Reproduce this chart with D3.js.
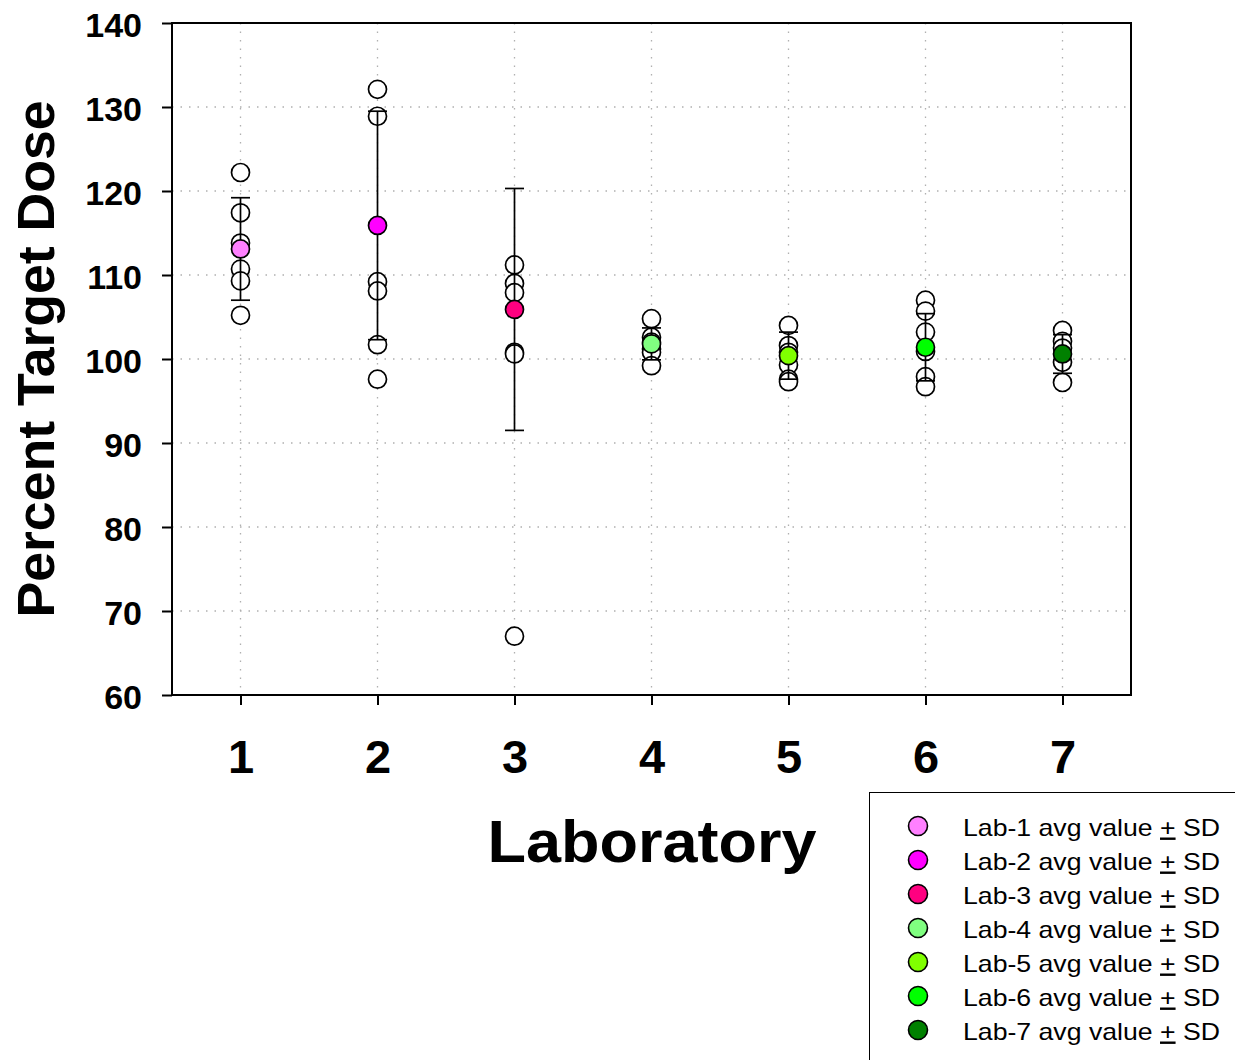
<!DOCTYPE html>
<html>
<head>
<meta charset="utf-8">
<script src="https://cdn.jsdelivr.net/npm/d3@7"></script>
<style>
  html, body { margin: 0; padding: 0; background: #fff; }
  svg { display: block; font-family: "Liberation Sans", Arial, Helvetica, sans-serif; }
</style>
</head>
<body>
<svg id="chart" width="1235" height="1060"></svg>
<script>
// ---- data ----
const labs = [1, 2, 3, 4, 5, 6, 7];
const lab1Values = [122.2, 117.4, 113.8, 110.7, 109.3, 105.2];
const lab2Values = [132.1, 128.9, 109.2, 108.1, 101.7, 97.6];
const lab3Values = [111.2, 109.0, 107.9, 100.8, 100.6, 67.0];
const lab4Values = [104.8, 102.6, 102.0, 101.2, 100.8, 99.2];
const lab5Values = [104.0, 101.6, 100.8, 99.3, 97.6, 97.3];
const lab6Values = [107.0, 105.7, 103.2, 100.9, 97.9, 96.7];
const lab7Values = [103.4, 102.1, 101.3, 99.6, 97.2];
const labMeans = [113.1, 115.9, 105.9, 101.8, 100.4, 101.4, 100.6];
const labSDs = [6.1, 13.6, 14.4, 1.9, 2.8, 4.0, 2.3];
const labColors = ["#ff80ff", "#ff00ff", "#ff0080", "#80ff80", "#80ff00", "#00ff00", "#008000"];
const yTicks = [60, 70, 80, 90, 100, 110, 120, 130, 140];
const legendLabels = labs.map(l => "Lab-" + l + " avg value ");

const allValues = [lab1Values, lab2Values, lab3Values, lab4Values, lab5Values, lab6Values, lab7Values];

// ---- layout ----
const svg = d3.select("#chart");
const L = 172, R = 1131, T = 23, B = 695;
const x = d3.scaleLinear().domain([0.5, 7.5]).range([L, R]);
const y = d3.scaleLinear().domain([60, 140]).range([B, T]);

// grid
const grid = svg.append("g").attr("stroke", "#b0b0b0").attr("stroke-width", 1.3)
  .attr("stroke-dasharray", "1.5,7");
grid.selectAll("line.h").data(yTicks.filter(t => t > 60 && t < 140)).join("line")
  .attr("x1", L).attr("x2", R).attr("y1", d => y(d)).attr("y2", d => y(d));
grid.selectAll("line.v").data(labs).join("line")
  .attr("x1", d => x(d)).attr("x2", d => x(d)).attr("y1", T).attr("y2", B);

// axes
const yAxis = d3.axisLeft(y).tickValues(yTicks).tickSize(10).tickPadding(20).tickFormat(d3.format("d"));
const gy = svg.append("g").attr("transform", `translate(${L},0)`).call(yAxis);
gy.select(".domain").remove();
gy.selectAll(".tick line").attr("stroke", "#000").attr("stroke-width", 2);
gy.selectAll(".tick text").attr("font-size", 34).attr("font-weight", "bold")
  .attr("font-family", "'Liberation Sans', Arial, sans-serif").attr("fill", "#000").attr("dy", "0.4em");

const xAxis = d3.axisBottom(x).tickValues(labs).tickSize(10).tickPadding(42).tickFormat(d3.format("d"));
const gx = svg.append("g").attr("transform", `translate(0,${B})`).call(xAxis);
gx.select(".domain").remove();
gx.selectAll(".tick line").attr("stroke", "#000").attr("stroke-width", 2);
gx.selectAll(".tick text").attr("font-size", 47).attr("font-weight", "bold")
  .attr("font-family", "'Liberation Sans', Arial, sans-serif").attr("fill", "#000").attr("dy", "0.55em");

// frame
svg.append("rect").attr("x", L).attr("y", T).attr("width", R - L).attr("height", B - T)
  .attr("fill", "none").attr("stroke", "#000").attr("stroke-width", 2);

// individual points
const ptsG = svg.append("g");
allValues.forEach((vals, i) => {
  ptsG.selectAll(null).data(vals).join("circle")
    .attr("cx", x(labs[i])).attr("cy", d => y(d)).attr("r", 9)
    .attr("fill", "#fff").attr("stroke", "#000").attr("stroke-width", 1.7);
});

// error bars
const eb = svg.append("g").attr("stroke", "#000").attr("stroke-width", 1.7);
labs.forEach((l, i) => {
  const cx = x(l), hi = y(labMeans[i] + labSDs[i]), lo = y(labMeans[i] - labSDs[i]);
  eb.append("line").attr("x1", cx).attr("x2", cx).attr("y1", hi).attr("y2", lo);
  eb.append("line").attr("x1", cx - 9.5).attr("x2", cx + 9.5).attr("y1", hi).attr("y2", hi);
  eb.append("line").attr("x1", cx - 9.5).attr("x2", cx + 9.5).attr("y1", lo).attr("y2", lo);
});

// mean points
svg.append("g").selectAll("circle").data(labs).join("circle")
  .attr("cx", d => x(d)).attr("cy", (d, i) => y(labMeans[i])).attr("r", 9)
  .attr("fill", (d, i) => labColors[i]).attr("stroke", "#000").attr("stroke-width", 1.7);

// axis titles
svg.append("text").attr("x", 652).attr("y", 862).attr("text-anchor", "middle")
  .attr("font-size", 60).attr("font-weight", "bold")
  .attr("textLength", 329).attr("lengthAdjust", "spacingAndGlyphs")
  .text("Laboratory");
svg.append("text").attr("transform", `translate(54,${(T + B) / 2}) rotate(-90)`)
  .attr("text-anchor", "middle").attr("font-size", 51).attr("font-weight", "bold")
  .attr("textLength", 517).attr("lengthAdjust", "spacingAndGlyphs")
  .text("Percent Target Dose");

// legend
const lg = svg.append("g");
lg.append("rect").attr("x", 869.5).attr("y", 792.5).attr("width", 400).attr("height", 300)
  .attr("fill", "#fff").attr("stroke", "#000").attr("stroke-width", 1);
labs.forEach((l, i) => {
  const cy = 826 + 34 * i;
  lg.append("circle").attr("cx", 918).attr("cy", cy).attr("r", 9.5)
    .attr("fill", labColors[i]).attr("stroke", "#000").attr("stroke-width", 1.6);
  const t = lg.append("text").attr("x", 963).attr("y", cy + 9.5).attr("font-size", 24)
    .attr("textLength", 257).attr("lengthAdjust", "spacingAndGlyphs");
  t.append("tspan").text(legendLabels[i]);
  t.append("tspan").attr("text-decoration", "underline").text("+");
  t.append("tspan").text(" SD");
});
</script>
</body>
</html>
